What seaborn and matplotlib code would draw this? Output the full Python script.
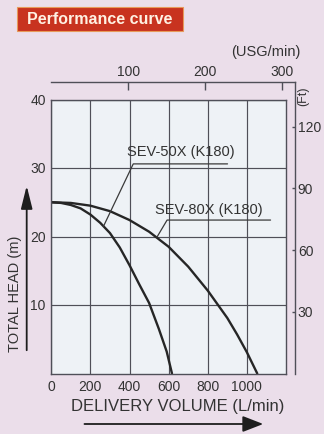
import matplotlib
matplotlib.use("Agg")
import matplotlib.pyplot as plt
from matplotlib.patches import Rectangle, FancyArrowPatch
import numpy as np
import pandas as pd
import seaborn as sns

# ---------------- data ----------------
sev50_flow = [0, 50, 100, 150, 200, 250, 300, 350, 400, 450, 500, 550, 590, 617]
sev50_head = [25.0, 24.9, 24.6, 24.1, 23.2, 22.0, 20.5, 18.4, 15.8, 13.0, 10.3, 6.5, 3.2, 0.0]
sev80_flow = [0, 100, 200, 300, 400, 500, 600, 700, 800, 900, 950, 1000, 1053]
sev80_head = [25.0, 24.9, 24.5, 23.7, 22.4, 20.7, 18.5, 15.6, 12.1, 8.1, 5.7, 3.1, 0.0]
models = ["SEV-50X (K180)", "SEV-80X (K180)"]

x_ticks = [0, 200, 400, 600, 800, 1000]
y_ticks = [10, 20, 30, 40]
usg_ticks = [100, 200, 300]
ft_ticks = [30, 60, 90, 120]
XMAX, YMAX = 1200, 40
USG_FACTOR = 3.93   # L/min per USG/min as drawn
FT_FACTOR = 3.33    # ft per m as drawn

title = "Performance curve"
xlabel = "DELIVERY VOLUME (L/min)"
ylabel = "TOTAL HEAD (m)"
usg_label = "(USG/min)"
ft_label = "(Ft)"

# leader lines: (point on curve) -> (start of underline) -> (end of underline)
leader50 = ([267, 419, 901], [21.5, 30.6, 30.6])
leader80 = ([540, 592, 1121], [19.9, 22.4, 22.4])
text50 = (386, 32.4)
text80 = (532, 23.9)

df = pd.concat([
    pd.DataFrame({"flow": sev50_flow, "head": sev50_head, "model": models[0]}),
    pd.DataFrame({"flow": sev80_flow, "head": sev80_head, "model": models[1]}),
])

# ---------------- style ----------------
sns.set_style("white")
plt.rcParams["font.family"] = ["Liberation Sans", "DejaVu Sans"]

W, H = 324, 434
BG = "#ebdeea"
FACE = "#eef2f6"
GRID = "#4f4f58"
TXT = "#333333"

fig = plt.figure(figsize=(W / 100, H / 100), dpi=100, facecolor=BG)

def fx(px):
    return px / W

def fy(py):
    return 1 - py / H

L, R, T, B = 51.3, 286.0, 99.5, 373.5
R2, T2 = 295.0, 82.0

# outer frame axes (USG / Ft)
ax2 = fig.add_axes([fx(L), fy(B), fx(R2) - fx(L), fy(T2) - fy(B)])
ax2.patch.set_visible(False)
ax2.set_xlim(0, XMAX * (R2 - L) / (R - L) / USG_FACTOR)
ax2.set_ylim(0, YMAX * (B - T2) / (B - T) * FT_FACTOR)
for s in ["left", "bottom"]:
    ax2.spines[s].set_visible(False)
for s in ["top", "right"]:
    ax2.spines[s].set_color(GRID)
    ax2.spines[s].set_linewidth(1.0)
ax2.xaxis.tick_top()
ax2.yaxis.tick_right()
ax2.set_xticks(usg_ticks)
ax2.set_yticks(ft_ticks)
ax2.tick_params(axis="x", direction="in", length=6, width=1, color=GRID,
                pad=2.5, labelsize=10, labelcolor=TXT)
ax2.tick_params(axis="y", direction="in", length=2.5, width=1, color=GRID,
                pad=2, labelsize=10, labelcolor=TXT)

# main axes
ax = fig.add_axes([fx(L), fy(B), fx(R) - fx(L), fy(T) - fy(B)])
ax.set_facecolor(FACE)
ax.set_xlim(0, XMAX)
ax.set_ylim(0, YMAX)
ax.set_xticks(x_ticks)
ax.set_yticks(y_ticks)
ax.grid(True, color=GRID, linewidth=0.85)
for s in ax.spines.values():
    s.set_color(GRID)
    s.set_linewidth(1.0)
ax.tick_params(axis="both", length=0, labelsize=10, labelcolor=TXT)
ax.tick_params(axis="x", pad=4.5)
ax.tick_params(axis="y", pad=4)

sns.lineplot(data=df, x="flow", y="head", hue="model",
             palette=["#262626", "#262626"], linewidth=1.7,
             legend=False, ax=ax, estimator=None)
ax.set_xlabel("")
ax.set_ylabel("")

ax.plot(*leader50, color="#3a3a3a", lw=0.9)
ax.plot(*leader80, color="#3a3a3a", lw=0.9)
ax.text(*text50, models[0], fontsize=10.5, color=TXT, va="center", ha="left")
ax.text(*text80, models[1], fontsize=10.5, color=TXT, va="center", ha="left")

# labels
fig.text(fx(178), fy(406.7), xlabel, fontsize=12, color=TXT, ha="center", va="center")
fig.text(fx(15), fy(294), ylabel, fontsize=10.5, color=TXT, ha="center",
         va="center", rotation=90)
fig.text(fx(266), fy(52), usg_label, fontsize=10.5, color=TXT, ha="center", va="center")
fig.text(fx(303.5), fy(96), ft_label, fontsize=9, color=TXT, ha="center",
         va="center", rotation=90)

# arrows
fig.add_artist(FancyArrowPatch(
    (fx(81.7), fy(424)), (fx(266), fy(424)), transform=fig.transFigure,
    arrowstyle="-|>,head_length=0.9,head_width=0.35", mutation_scale=14,
    color="#1e1e1e", lw=1.3))
fig.add_artist(FancyArrowPatch(
    (fx(26.7), fy(353)), (fx(26.7), fy(183)), transform=fig.transFigure,
    arrowstyle="-|>,head_length=1.0,head_width=0.25", mutation_scale=14,
    color="#1e1e1e", lw=1.3))

# title box
fig.add_artist(Rectangle((fx(17), fy(30.5)), fx(183) - fx(17), fy(7.5) - fy(30.5),
                         transform=fig.transFigure, facecolor="#c8331f",
                         edgecolor="#e79a5a", lw=0.8))
fig.text(fx(100), fy(19.2), title, fontsize=11.5, fontweight="bold",
         color="#fff1e2", ha="center", va="center")

fig.savefig("out.png", dpi=100, facecolor=BG)
